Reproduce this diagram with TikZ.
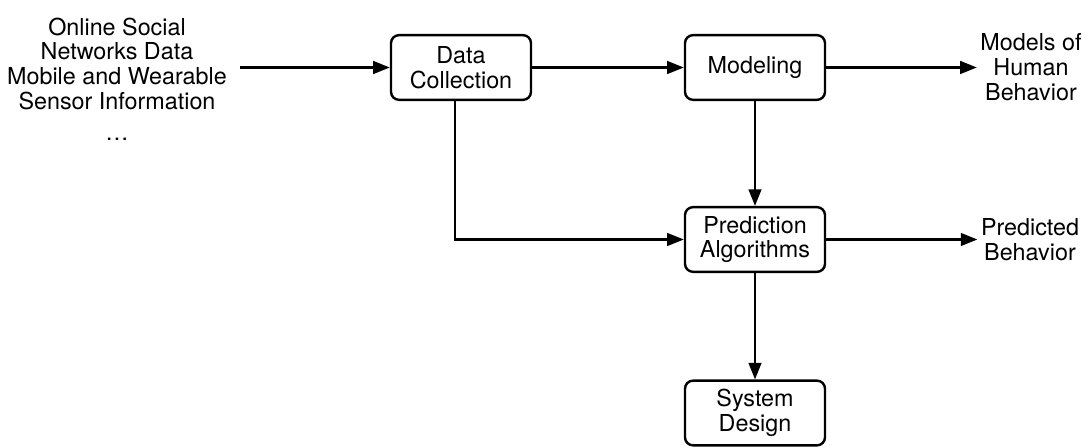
\documentclass[tikz,border=0pt]{standalone}
\usepackage{fontspec}
\setmainfont{TeX Gyre Heros}
\usetikzlibrary{arrows.meta}
\begin{document}
\begin{tikzpicture}[x=0.75pt,y=-0.75pt,
  every node/.style={font=\fontsize{17.5}{18.5}\selectfont, align=center},
  box/.style={draw, line width=1.8pt, rounded corners=6pt, minimum width=105pt, minimum height=48.5pt, inner sep=2pt},
  txt/.style={inner sep=2.5pt},
  conn/.style={line width=1.8pt, -{Triangle[length=12.5pt,width=9.5pt]}}
]
\useasboundingbox (0,0) rectangle (1089,448);
\node[txt] (src) at (117,79) {Online Social\\Networks Data\\Mobile and Wearable\\Sensor Information\\[5pt]\dots};
\node[box] (dc) at (461,67.5) {Data\\Collection};
\node[box] (mod) at (755,67.5) {Modeling};
\node[box] (pa) at (755,239.5) {Prediction\\Algorithms};
\node[box] (sd) at (755,413) {System\\Design};
\node[txt] (out1) at (1031,67) {Models of\\Human\\Behavior};
\node[txt] (out2) at (1030,240) {Predicted\\Behavior};
\coordinate (srcout) at ([xshift=7pt]src.east |- dc.west);

\draw[conn] (srcout) -- (dc.west);
\draw[conn] (dc.east) -- (mod.west);
\draw[conn] (mod.east) -- (mod.east -| out1.west);
\draw[conn] (mod.south) -- (pa.north);
\draw[conn] ([xshift=-4.5pt]dc.south) |- (pa.west);
\draw[conn] (pa.east) -- (pa.east -| out2.west);
\draw[conn] (pa.south) -- (sd.north);
\end{tikzpicture}
\end{document}
